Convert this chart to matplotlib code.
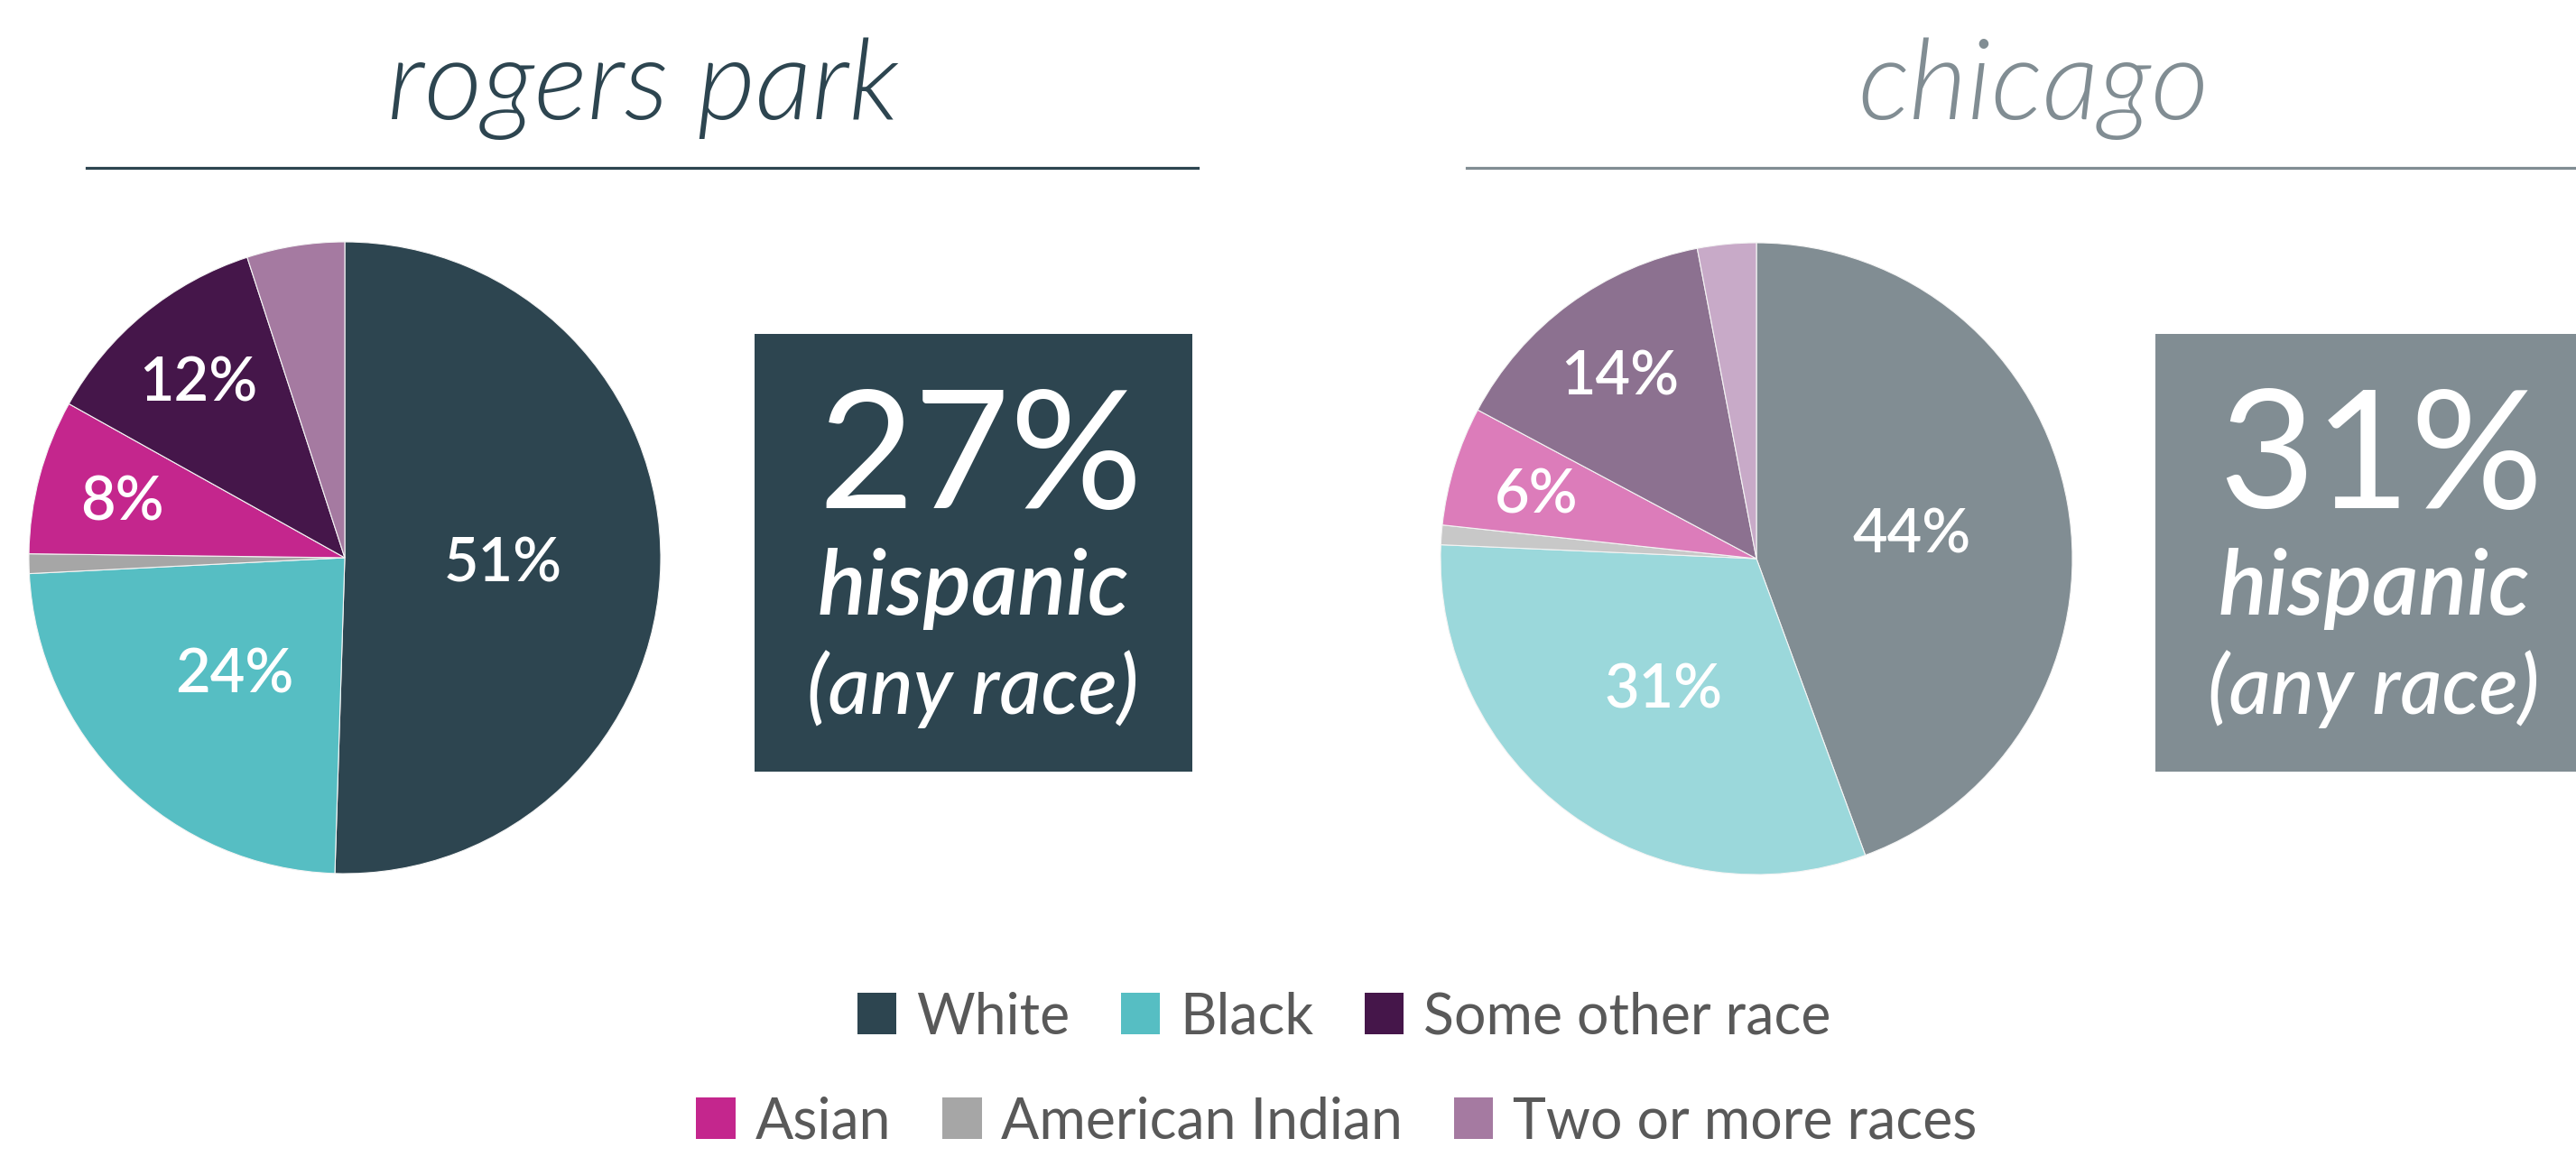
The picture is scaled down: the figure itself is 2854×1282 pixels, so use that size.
import matplotlib
matplotlib.use("Agg")
import matplotlib.pyplot as plt
from matplotlib.patches import Rectangle, Patch
from matplotlib.lines import Line2D
import numpy as np

# ---------------- data ----------------
categories = ["White", "Black", "American Indian", "Asian", "Some other race", "Two or more races"]
rogers_park = [50.5, 23.7, 1.0, 7.9, 11.9, 5.0]
chicago = [44.4, 31.3, 1.0, 6.1, 14.2, 3.0]
rogers_labels = ["51%", "24%", "", "8%", "12%", ""]
chicago_labels = ["44%", "31%", "", "6%", "14%", ""]
hispanic = ["27%", "31%"]
titles = ["rogers park", "chicago"]

rp_colors = ["#2d4550", "#56bec3", "#a6a6a6", "#c4268d", "#45164a", "#a57aa1"]
chi_colors = ["#818d93", "#9bd8db", "#c8c8c8", "#dc7cba", "#8c7190", "#c8aac8"]
accent = ["#2d4550", "#818d93"]

W, H = 2854, 1282
fig = plt.figure(figsize=(W / 100, H / 100), dpi=100)
fig.patch.set_facecolor("white")

FONT = "Lato"


def fx(x):
    return x / W


def fy(y):
    return (H - y) / H


def draw_pie(cx, cy, r, values, labels, colors, label_r):
    ax = fig.add_axes([fx(cx - r), fy(cy + r), 2 * r / W, 2 * r / H])
    wedges, _ = ax.pie(values, colors=colors, startangle=90, counterclock=False,
                       radius=1.0, wedgeprops=dict(linewidth=0.8, edgecolor="#f4f4f4"))
    ax.set_xlim(-1, 1)
    ax.set_ylim(-1, 1)
    ax.set_aspect("equal")
    ax.axis("off")
    for w, lab, lr in zip(wedges, labels, label_r):
        if not lab:
            continue
        ang = np.deg2rad((w.theta1 + w.theta2) / 2)
        ax.text(lr * np.cos(ang), lr * np.sin(ang) - 0.015, lab, ha="center", va="center",
                color="white", fontsize=48, family=FONT, fontweight="semibold")
    return wedges


label_r = [0.5, 0.5, 0, 0.73, 0.73, 0]
wedges_rp = draw_pie(382, 618, 350, rogers_park, rogers_labels, rp_colors, label_r)
wedges_chi = draw_pie(1946, 619, 350, chicago, chicago_labels, chi_colors, label_r)

# titles and rules
for (tx, x0, x1), title, col in zip([(712, 96, 1327), (2253, 1625, 2854)], titles, accent):
    fig.text(fx(tx), fy(132), title, ha="center", va="baseline", fontsize=90,
             family=FONT, style="italic", fontweight=300, color=col)
    fig.add_artist(Line2D([fx(x0), fx(x1)], [fy(186), fy(186)], color=col, lw=2.3,
                          transform=fig.transFigure))

# hispanic boxes
for bx, pct, col in zip([836, 2388], hispanic, accent):
    fig.add_artist(Rectangle((fx(bx), fy(855)), 485 / W, 485 / H, facecolor=col,
                             edgecolor="none", transform=fig.transFigure))
    cx = bx + 242
    fig.text(fx(cx + 8), fy(563), pct, ha="center", va="baseline", fontsize=132,
             family=FONT, color="white", fontweight="normal")
    fig.text(fx(cx), fy(681), "hispanic", ha="center", va="baseline", fontsize=72,
             family=FONT, style="italic", fontweight="semibold", color="white")
    fig.text(fx(cx), fy(791), "(any race)", ha="center", va="baseline", fontsize=65,
             family=FONT, style="italic", fontweight="medium", color="white")

# legend (two rows)
rows = [[0, 1, 4], [3, 2, 5]]
row_pos = [(1489, 1127), (1481, 1243)]
for idx, (lx, ly) in zip(rows, row_pos):
    handles = [Patch(facecolor=rp_colors[i], edgecolor="none") for i in idx]
    labs = [categories[i] for i in idx]
    leg = fig.legend(handles, labs, loc="center", bbox_to_anchor=(fx(lx), fy(ly)),
                     ncol=3, frameon=False, handlelength=0.7, handleheight=0.75,
                     handletextpad=0.35, columnspacing=0.9, borderaxespad=0,
                     prop=dict(family=FONT, size=45, weight="normal"))
    for t in leg.get_texts():
        t.set_color("#595959")

fig.savefig("out.png", dpi=100, facecolor="white")
